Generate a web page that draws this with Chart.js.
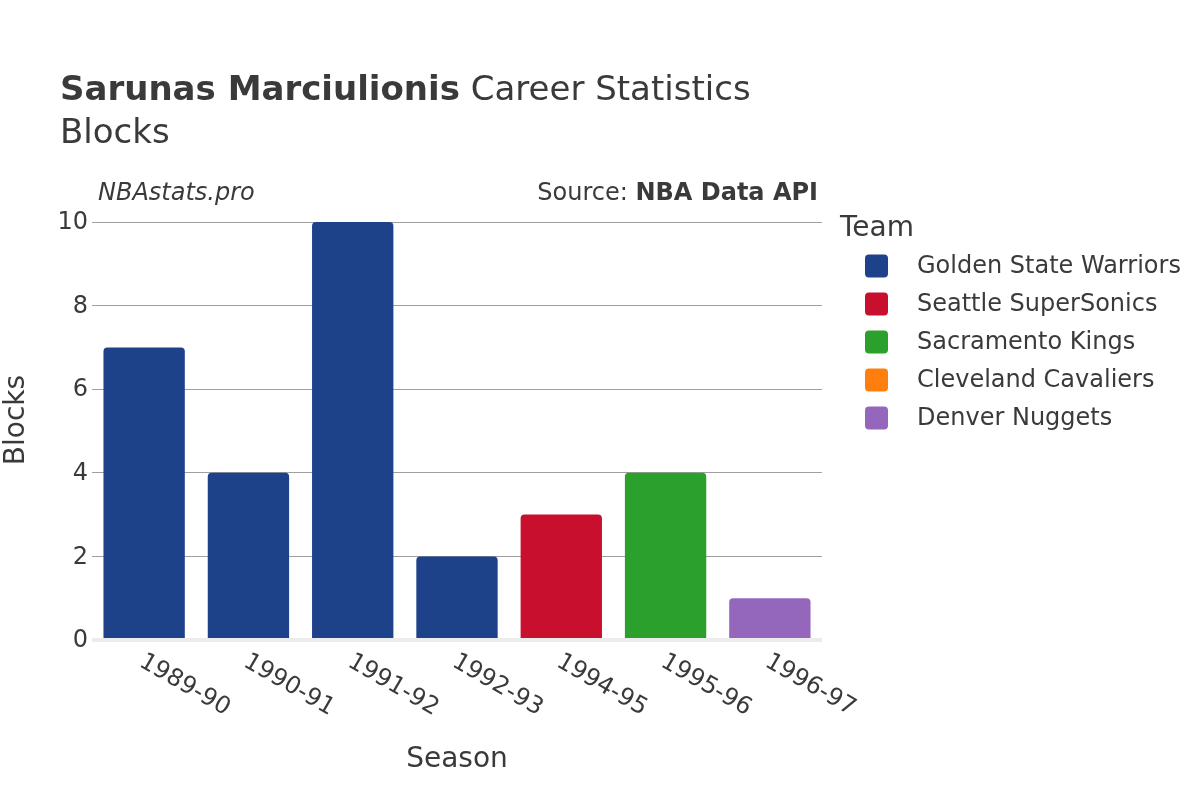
<!DOCTYPE html>
<html>
<head>
<meta charset="utf-8">
<script src="https://cdn.jsdelivr.net/npm/chart.js@4"></script>
<style>
  body { margin: 0; background: #fff; }
  #chart { display: block; }
</style>
</head>
<body>
<canvas id="chart" width="1200" height="800"></canvas>
<script>
const seasons = ["1989-90", "1990-91", "1991-92", "1992-93", "1994-95", "1995-96", "1996-97"];
const teams = ["Golden State Warriors", "Seattle SuperSonics", "Sacramento Kings", "Cleveland Cavaliers", "Denver Nuggets"];
const teamColors = ["#1d428a", "#c8102e", "#2ca02c", "#ff7f0e", "#9467bd"];
// blocks per season, null where the team did not play that season
const gswBlocks = [7, 4, 10, 2, null, null, null];
const seaBlocks = [null, null, null, null, 3, null, null];
const sacBlocks = [null, null, null, null, null, 4, null];
const cleBlocks = [null, null, null, null, null, null, null];
const denBlocks = [null, null, null, null, null, null, 1];
const yTicks = [0, 2, 4, 6, 8, 10];

const FONT = "'DejaVu Sans', sans-serif";
const TEXT = "#3a3a3a";

const seriesValues = [gswBlocks, seaBlocks, sacBlocks, cleBlocks, denBlocks];

const decorations = {
    id: "decorations",
    afterDraw(chart) {
        const ctx = chart.ctx;
        const area = chart.chartArea;
        const xs = chart.scales.x;
        const ys = chart.scales.y;
        ctx.save();
        ctx.fillStyle = TEXT;

        // title
        ctx.textBaseline = "alphabetic";
        ctx.textAlign = "left";
        ctx.font = "bold 34px " + FONT;
        const bold = "Sarunas Marciulionis";
        ctx.fillText(bold, 60, 100);
        const w = ctx.measureText(bold).width;
        ctx.font = "34px " + FONT;
        ctx.fillText(" Career Statistics", 60 + w, 100);
        ctx.fillText("Blocks", 60, 143);

        // watermark and source
        ctx.font = "italic 24px " + FONT;
        ctx.fillText("NBAstats.pro", 98, 200);
        ctx.textAlign = "right";
        ctx.font = "bold 24px " + FONT;
        const api = "NBA Data API";
        ctx.fillText(api, 818, 200);
        const aw = ctx.measureText(api).width;
        ctx.font = "24px " + FONT;
        ctx.fillText("Source: ", 818 - aw, 200);

        // y tick labels
        ctx.font = "24px " + FONT;
        ctx.textAlign = "right";
        ctx.textBaseline = "middle";
        yTicks.forEach(v => ctx.fillText(String(v), 88, ys.getPixelForValue(v) + 1));

        // x tick labels, rotated
        ctx.textAlign = "left";
        seasons.forEach((s, i) => {
            ctx.save();
            ctx.translate(xs.getPixelForValue(i) - 3, area.bottom + 20);
            ctx.rotate(Math.PI / 6);
            ctx.fillText(s, 0, 0);
            ctx.restore();
        });

        // axis titles
        ctx.font = "28px " + FONT;
        ctx.textAlign = "center";
        ctx.fillText("Season", 457, 760);
        ctx.save();
        ctx.translate(17, 420);
        ctx.rotate(-Math.PI / 2);
        ctx.fillText("Blocks", 0, 0);
        ctx.restore();

        // legend
        ctx.textAlign = "left";
        ctx.textBaseline = "alphabetic";
        ctx.font = "28px " + FONT;
        ctx.fillText("Team", 840, 236);
        ctx.font = "24px " + FONT;
        ctx.textBaseline = "middle";
        chart.data.datasets.forEach((ds, i) => {
            const cy = 266 + i * 38;
            ctx.fillStyle = ds.backgroundColor;
            ctx.beginPath();
            ctx.roundRect(865, cy - 11.5, 23, 23, 4);
            ctx.fill();
            ctx.fillStyle = TEXT;
            ctx.fillText(ds.label, 917, cy + 1);
        });
        ctx.restore();
    }
};

new Chart(document.getElementById("chart"), {
    type: "bar",
    data: {
        labels: seasons,
        datasets: teams.map((t, i) => ({
            label: t,
            data: seriesValues[i],
            backgroundColor: teamColors[i],
            borderRadius: { topLeft: 4, topRight: 4 },
            borderSkipped: "bottom",
            barPercentage: 0.78,
            categoryPercentage: 1
        }))
    },
    options: {
        responsive: false,
        animation: false,
        layout: { padding: { left: 92, right: 378, top: 222, bottom: 160 } },
        plugins: { legend: { display: false }, tooltip: { enabled: false } },
        scales: {
            x: {
                stacked: true,
                grid: { display: false, drawTicks: false },
                border: { display: false },
                ticks: { display: false }
            },
            y: {
                min: 0,
                max: 10,
                ticks: { display: false, stepSize: 2 },
                border: { display: false },
                grid: {
                    drawTicks: false,
                    color: ctx => ctx.tick && ctx.tick.value === 0 ? "#ececec" : "#a0a0a0",
                    lineWidth: ctx => ctx.tick && ctx.tick.value === 0 ? 4 : 1
                }
            }
        }
    },
    plugins: [decorations]
});
</script>
</body>
</html>
